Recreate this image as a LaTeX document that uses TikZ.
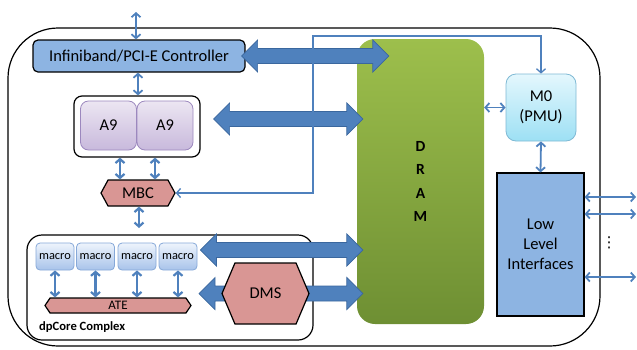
\documentclass[tikz,border=0pt]{standalone}
\usepackage{fontspec}
\setmainfont{Carlito}
\newfontfamily\dejavu{DejaVu Sans}
\usetikzlibrary{arrows.meta,shapes.symbols,calc}
\definecolor{ablue}{HTML}{4F81BD}
\definecolor{adark}{HTML}{3A679E}
\definecolor{ibfill}{HTML}{8DB4E2}
\definecolor{mbcfill}{HTML}{D99694}
\definecolor{dramtop}{HTML}{9DBF4C}
\definecolor{drambot}{HTML}{6E8F33}
\definecolor{a9top}{HTML}{ECE6F2}
\definecolor{a9bot}{HTML}{C8B9DC}
\definecolor{a9line}{HTML}{9C88BE}
\definecolor{m0top}{HTML}{E4F7FD}
\definecolor{m0bot}{HTML}{9DE0F4}
\definecolor{m0line}{HTML}{7FB9D4}
\definecolor{mactop}{HTML}{EEF4FC}
\definecolor{macbot}{HTML}{A8C3EA}
\definecolor{macline}{HTML}{86A8D8}
\newcommand\bigdarrow[2]{%
  \path[bigarrow] let \p1=#1, \p2=#2 in
   (\x1,\y1) -- (\x1+16pt,\y1+16pt) -- (\x1+16pt,\y1+7.5pt) -- (\x2-16pt,\y1+7.5pt)
   -- (\x2-16pt,\y1+16pt) -- (\x2,\y1) -- (\x2-16pt,\y1-16pt) -- (\x2-16pt,\y1-7.5pt)
   -- (\x1+16pt,\y1-7.5pt) -- (\x1+16pt,\y1-16pt) -- cycle;}
\begin{document}
\begin{tikzpicture}[x=1pt,y=-1pt,
  mainfont/.style={font=\fontsize{16.5}{20}\selectfont},
  blk/.style={draw=black, line width=1.2pt},
  ibbox/.style={blk, fill=ibfill, rounded corners=5pt, mainfont, inner sep=0pt},
  contbox/.style={blk, rounded corners=8pt, inner sep=0pt},
  a9box/.style={draw=a9line, line width=0.8pt, top color=a9top, bottom color=a9bot, rounded corners=8pt,
     minimum width=56pt, minimum height=49pt, mainfont, inner sep=0pt},
  macbox/.style={draw=macline, line width=0.8pt, top color=mactop, bottom color=macbot, rounded corners=4pt,
     minimum width=38pt, minimum height=27pt, font=\fontsize{12.4}{14}\selectfont, inner sep=0pt},
  hexbox/.style={blk, fill=mbcfill, shape=signal, signal to=east and west, inner sep=0pt},
  bigarrow/.style={fill=ablue, draw=adark, line width=0.7pt, line join=miter},
  tarr/.style={draw=ablue, line width=1.8pt, {Straight Barb[length=4pt,width=9pt]}-{Straight Barb[length=4pt,width=9pt]}},
  varr/.style={draw=ablue, line width=2.2pt, {Straight Barb[length=4pt,width=9pt]}-{Straight Barb[length=4pt,width=9pt]}},
  tline/.style={draw=ablue, line width=1.3pt, {Straight Barb[length=4pt,width=9pt]}-{Straight Barb[length=4pt,width=9pt]}},
]
\useasboundingbox (0,0) rectangle (637,349);
% outer chip outline
\node[blk, rounded corners=50pt, minimum width=592pt, minimum height=318pt, inner sep=0pt] (chip) at (304,187) {};
% controller
\node[ibbox, minimum width=212pt, minimum height=32pt] (ib) at (139,56) {Infiniband/PCI-E Controller};
% A9 cluster
\node[contbox, minimum width=126pt, minimum height=61pt] (a9c) at (137,126.5) {};
\node[a9box] (a9a) at (108.5,125.5) {A9};
\node[a9box] (a9b) at (165,125.5) {A9};
% MBC
\node[hexbox, minimum width=74pt, minimum height=26pt, signal pointer angle=123, mainfont] (mbc) at (138,193) {MBC};
\coordinate (mbcdown) at (139,228);
% dpCore complex
\node[blk, rounded corners=15pt, minimum width=286pt, minimum height=105pt, inner sep=0pt] (dp) at (170,287.5) {};
\node[anchor=west, inner sep=0pt, font=\fontsize{12.6}{14}\selectfont\bfseries] (dplabel) at (39,327) {dpCore Complex};
\node[macbox] (m1) at (55,256.5) {macro};
\node[macbox] (m2) at (95.5,256.5) {macro};
\node[macbox] (m3) at (137,256.5) {macro};
\node[macbox] (m4) at (178,256.5) {macro};
\node[hexbox, minimum width=146pt, minimum height=15pt, signal pointer angle=112, font=\fontsize{13}{14}\selectfont] (ate) at (118,305.5) {ATE};
% DRAM
\node[rounded corners=18pt, top color=dramtop, bottom color=drambot, minimum width=127pt, minimum height=285pt,
   inner sep=0pt, align=center, font=\fontsize{15.5}{23.5}\selectfont\bfseries] (dram) at (420.5,181.5) {D\\R\\A\\M};
% M0 and low level interfaces
\node[draw=m0line, line width=0.8pt, top color=m0top, bottom color=m0bot, rounded corners=10pt,
   minimum width=70pt, minimum height=67pt, inner sep=0pt, align=center, mainfont] (m0) at (541,107.5) {M0\\(PMU)};
\node[blk, fill=ibfill, minimum width=87pt, minimum height=143pt, inner sep=0pt, align=center, mainfont] (lli) at (540.5,244.5) {Low\\Level\\Interfaces};
% big data arrows
\coordinate (dmsc) at (265.5,293.5);
\bigdarrow{([xshift=-4pt]ib.east)}{([xshift=32pt]dram.west |- ib.east)}
\bigdarrow{([xshift=13pt,yshift=7.5pt]a9c.east)}{([xshift=6pt]dram.west)}
\bigdarrow{([xshift=3pt,yshift=6.5pt]m4.east)}{([xshift=6pt]dram.west)}
\bigdarrow{([xshift=-66.5pt]dmsc)}{([xshift=6pt]dram.west)}
\node[hexbox, minimum width=87pt, minimum height=61pt, signal pointer angle=134, mainfont] (dms) at (dmsc) {DMS};
% thin connectors
\coordinate (ibtop) at (136,12);
\draw[tarr] (ibtop) -- (ibtop |- ib.north);
\draw[tarr] ([xshift=-1pt]ib.south) -- ([xshift=-1pt]ib.south |- a9c.north);
\draw[varr] ([xshift=-18pt]mbc.north |- a9c.south) -- ([xshift=-18pt]mbc.north);
\draw[varr] ([xshift=17pt]mbc.north |- a9c.south) -- ([xshift=17pt]mbc.north);
\draw[varr] ([xshift=1pt]mbc.south) -- (mbcdown);
\foreach \m in {m1,m2,m3,m4}{\draw[varr] (\m.south) -- (\m.south |- ate.north);}
\coordinate (bend) at (313,36);
\draw[tline] (mbc.east) -| (bend) -| (m0.north);
\draw[tarr] (dram.east |- m0.west) -- (m0.west);
\draw[tarr] (m0.south) -- (lli.north);
\coordinate (r1) at (636,197);
\coordinate (r2) at (636,214);
\coordinate (r3) at (636,277);
\draw[tarr] (r1 -| lli.east) -- (r1);
\draw[tarr] (r2 -| lli.east) -- (r2);
\draw[tarr] (r3 -| lli.east) -- (r3);
\node[inner sep=0pt, font=\dejavu\fontsize{15}{16}\selectfont] (dots) at (609,243) {⋮};
\end{tikzpicture}
\end{document}
